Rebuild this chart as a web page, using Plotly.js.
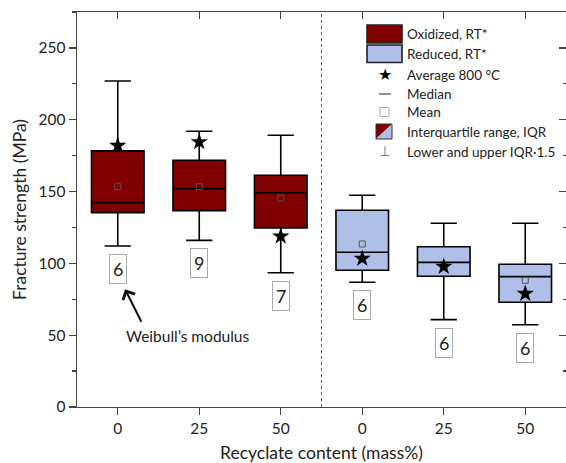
<!DOCTYPE html>
<html><head><meta charset="utf-8">
<script src="https://cdn.plot.ly/plotly-3.0.1.min.js"></script>
<style>html,body{margin:0;padding:0;background:#fff}#chart{width:566px;height:463px}</style>
</head><body><div id="chart"></div>
<script>
// ---- data ----
const tickLabels = ['0', '25', '50', '0', '25', '50'];
const oxPos  = [0, 1, 2];
const redPos = [3, 4, 5];
const oxLower  = [112.1, 116.0, 93.5];
const oxQ1     = [135.3, 136.7, 124.7];
const oxMedian = [142.3, 152.0, 149.2];
const oxQ3     = [178.3, 171.8, 161.3];
const oxUpper  = [227.0, 192.0, 189.2];
const oxMean   = [153.4, 153.4, 145.5];
const oxAvg800 = [182.0, 184.5, 118.8];
const oxWeibull = ['6', '9', '7'];
const redLower  = [86.8, 60.8, 57.3];
const redQ1     = [95.2, 91.0, 72.9];
const redMedian = [107.7, 100.7, 90.8];
const redQ3     = [137.0, 111.6, 99.4];
const redUpper  = [147.4, 127.9, 127.9];
const redMean   = [113.5, 97.9, 88.2];
const redAvg800 = [103.3, 97.7, 78.9];
const redWeibull = ['6', '6', '6'];

// ---- style ----
const RED = '#800000', BLUE = '#afbfe8', AX = '#444', TXT = '#222';
const FONT = 'Lato, "Open Sans", sans-serif';
const W = 566, H = 463, M = {l: 77, r: 0, t: 12, b: 56};
const pw = W - M.l - M.r, ph = H - M.t - M.b;
const px = x => (x - M.l) / pw;          // pixel -> paper x
const py = y => (H - M.b - y) / ph;      // pixel -> paper y

const boxStyle = {type: 'box', boxpoints: false, width: 0.645, whiskerwidth: 0.5,
  line: {color: '#000', width: 1.6}, hoverinfo: 'skip', showlegend: false};

const traces = [
  Object.assign({}, boxStyle, {x: oxPos, q1: oxQ1, median: oxMedian, q3: oxQ3,
    lowerfence: oxLower, upperfence: oxUpper, fillcolor: RED, name: 'Oxidized, RT*'}),
  Object.assign({}, boxStyle, {x: redPos, q1: redQ1, median: redMedian, q3: redQ3,
    lowerfence: redLower, upperfence: redUpper, fillcolor: BLUE, name: 'Reduced, RT*'}),
  {type: 'scatter', mode: 'markers', x: oxPos.concat(redPos), y: oxMean.concat(redMean),
    marker: {symbol: 'square-open', size: 6, color: '#555', line: {width: 1}}, showlegend: false, hoverinfo: 'skip'},
  {type: 'scatter', mode: 'markers', x: oxPos.concat(redPos), y: oxAvg800.concat(redAvg800),
    marker: {symbol: 'star', size: 13, color: '#000'}, showlegend: false, hoverinfo: 'skip'},
  {type: 'scatter', mode: 'markers', x: [0], y: [0], xaxis: 'x2', yaxis: 'y2',
    marker: {opacity: 0}, showlegend: false, hoverinfo: 'skip'}
];

const annotations = [];
const allPos = oxPos.concat(redPos), allLower = oxLower.concat(redLower), allW = oxWeibull.concat(redWeibull);
allPos.forEach((p, i) => annotations.push({x: p, y: allLower[i], xref: 'x', yref: 'y', yshift: -23,
  yanchor: 'middle', text: allW[i], showarrow: false, font: {size: 18, color: TXT, family: FONT},
  bordercolor: '#aaa', borderwidth: 1, borderpad: 3, bgcolor: '#fff'}));

// Weibull arrow + label
annotations.push({x: 0.09, y: 82, xref: 'x', yref: 'y', ax: 17, ay: 34, axref: 'pixel', ayref: 'pixel',
  text: '', showarrow: true, arrowhead: 4, arrowsize: 1.3, arrowwidth: 2, arrowcolor: '#111'});
annotations.push({x: px(124), y: py(336), xref: 'paper', yref: 'paper', xanchor: 'left', yanchor: 'middle',
  text: 'Weibull’s modulus', showarrow: false, font: {size: 15.5, color: TXT, family: FONT}});

// custom legend
const legTexts = [['Oxidized, RT*', 34], ['Reduced, RT*', 54], ['Average 800 °C', 75], ['Median', 94],
  ['Mean', 112], ['Interquartile range, IQR', 132], ['Lower and upper IQR·1.5', 152]];
legTexts.forEach(([t, y]) => annotations.push({x: px(405), y: py(y), xref: 'paper', yref: 'paper',
  xanchor: 'left', yanchor: 'middle', text: t, showarrow: false, font: {size: 13.5, color: TXT, family: FONT}}));
annotations.push({x: px(385), y: py(75), xref: 'paper', yref: 'paper', xanchor: 'center', yanchor: 'middle',
  text: '★', showarrow: false, font: {size: 16, color: '#000', family: '"DejaVu Sans"'}});

const rectP = (x0, y0, x1, y1, fill, lc, lw) => ({type: 'rect', xref: 'paper', yref: 'paper',
  x0: px(x0), x1: px(x1), y0: py(y0), y1: py(y1), fillcolor: fill, line: {color: lc, width: lw}, layer: 'above'});
const lineP = (x0, y0, x1, y1, lc, lw) => ({type: 'line', xref: 'paper', yref: 'paper',
  x0: px(x0), x1: px(x1), y0: py(y0), y1: py(y1), line: {color: lc, width: lw}, layer: 'above'});
const triP = (pts, fill) => ({type: 'path', xref: 'paper', yref: 'paper',
  path: 'M' + pts.map(p => px(p[0]) + ',' + py(p[1])).join('L') + 'Z', fillcolor: fill, line: {width: 0}, layer: 'above'});

const shapes = [
  {type: 'line', xref: 'x', yref: 'paper', x0: 2.5, x1: 2.5, y0: 0, y1: 1, line: {color: '#555', width: 1, dash: 'dot'}},
  rectP(367, 25, 402, 43, RED, '#222', 1.6),
  rectP(367, 45, 402, 62.5, BLUE, '#222', 1.6),
  lineP(379, 94, 391, 94, '#555', 1.3),
  rectP(380, 107.5, 389, 116.5, '#fff', '#aaa', 1),
  triP([[376, 124], [392, 124], [376, 139]], RED),
  triP([[392, 124], [392, 139], [376, 139]], BLUE),
  rectP(376, 124, 392, 139, 'rgba(0,0,0,0)', '#333', 1),
  lineP(385, 146, 385, 155.5, '#777', 1),
  lineP(381, 155.5, 389, 155.5, '#777', 1)
];

const baseAx = {showgrid: false, zeroline: false, showline: true, linecolor: AX, linewidth: 1.3,
  tickcolor: AX, tickwidth: 1.3, ticklen: 7};

const layout = {
  width: W, height: H, margin: M, paper_bgcolor: '#fff', plot_bgcolor: '#fff',
  font: {family: FONT, color: TXT, size: 15},
  showlegend: false, boxmode: 'overlay',
  xaxis: Object.assign({}, baseAx, {range: [-0.5, 5.5], tickmode: 'array', tickvals: allPos, ticktext: tickLabels,
    ticks: 'outside', tickfont: {size: 15.5, color: TXT},
    title: {text: 'Recyclate content (mass%)', font: {size: 17.5, color: TXT}, standoff: 11}}),
  yaxis: Object.assign({}, baseAx, {range: [0, 275], tick0: 0, dtick: 50, ticks: 'outside', tickfont: {size: 15.5, color: TXT},
    minor: {dtick: 25, ticks: 'outside', ticklen: 4, tickcolor: AX, tickwidth: 1.3},
    title: {text: 'Fracture strength (MPa)', font: {size: 17.5, color: TXT}, standoff: 7}}),
  xaxis2: Object.assign({}, baseAx, {overlaying: 'x', side: 'top', range: [-0.5, 5.5], tickmode: 'array',
    tickvals: allPos, ticks: 'inside', showticklabels: false}),
  yaxis2: Object.assign({}, baseAx, {overlaying: 'y', side: 'right', range: [0, 275], tick0: 0, dtick: 50,
    ticks: 'inside', showticklabels: false,
    minor: {dtick: 25, ticks: 'inside', ticklen: 3, tickcolor: AX, tickwidth: 1.3}}),
  annotations: annotations, shapes: shapes
};

Plotly.newPlot('chart', traces, layout, {displayModeBar: false, staticPlot: true});
</script></body></html>
